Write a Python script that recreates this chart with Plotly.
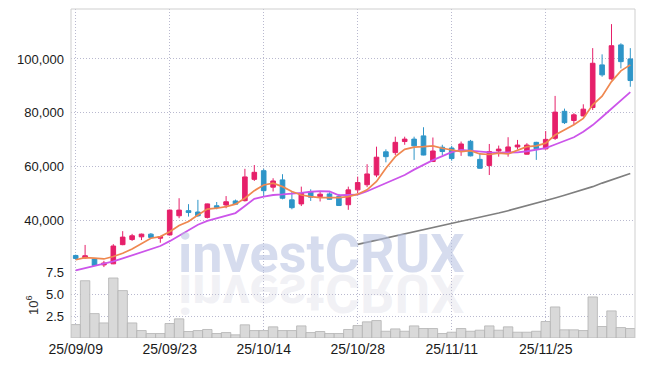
import plotly.graph_objects as go

dates = ["25/09/09","25/09/10","25/09/11","25/09/12","25/09/15","25/09/16","25/09/17","25/09/18","25/09/19","25/09/22",
         "25/09/23","25/09/24","25/09/25","25/09/26","25/09/29","25/09/30","25/10/01","25/10/02","25/10/10","25/10/13",
         "25/10/14","25/10/15","25/10/16","25/10/17","25/10/20","25/10/21","25/10/22","25/10/23","25/10/24","25/10/27",
         "25/10/28","25/10/29","25/10/30","25/10/31","25/11/03","25/11/04","25/11/05","25/11/06","25/11/07","25/11/10",
         "25/11/11","25/11/12","25/11/13","25/11/14","25/11/17","25/11/18","25/11/19","25/11/20","25/11/21","25/11/24",
         "25/11/25","25/11/26","25/11/27","25/11/28","25/12/01","25/12/02","25/12/03","25/12/04","25/12/05","25/12/08"]

open_ = [27200, 26300, 25900, 23700, 24100, 31200, 33100, 34100, 35100, 33600,
         34800, 41900, 43800, 43300, 41300, 45600, 45900, 47400, 47500, 55400,
         58600, 52500, 55200, 47800, 46300, 50800, 49000, 50000, 49000, 46000,
         51500, 53400, 57000, 65600, 65300, 69400, 70300, 71500, 62000, 67300,
         67000, 65700, 69500, 62800, 60500, 65900, 65100, 67400, 64700, 69100,
         66700, 70600, 80600, 77200, 78900, 82000, 97800, 92600, 105200, 100000]
high = [27500, 31100, 26000, 25200, 31400, 36200, 35200, 35300, 35500, 34400,
        44200, 48400, 46200, 47800, 46400, 47000, 49200, 47900, 59300, 60700,
        59300, 55800, 57300, 51000, 52700, 51700, 50900, 50600, 50000, 52700,
        56400, 61000, 67500, 66500, 71200, 71200, 71200, 74700, 70900, 68200,
        67800, 69400, 70000, 65100, 68500, 67900, 71000, 70000, 68800, 69300,
        73300, 86300, 81600, 79900, 83200, 104000, 101700, 112900, 105800, 104000]
low = [25600, 26000, 23400, 22900, 24000, 31000, 32600, 32900, 33800, 31900,
       34600, 41000, 41600, 41500, 40900, 44300, 44700, 45900, 47200, 54800,
       49300, 50900, 48000, 44300, 45500, 47400, 47200, 47900, 45600, 44100,
       50300, 52500, 56200, 61700, 64400, 68200, 62600, 64300, 61800, 64400,
       62300, 64100, 63900, 59400, 57000, 63800, 63800, 66500, 64600, 62600,
       66400, 70000, 75900, 75600, 78700, 81100, 93400, 92300, 96500, 89700]
close = [26100, 27100, 23500, 24400, 30700, 34000, 34500, 35100, 33900, 34200,
         44000, 44000, 43100, 41900, 46300, 45000, 47100, 46200, 56300, 58000,
         51200, 54800, 48400, 44900, 50200, 48800, 49900, 48000, 45700, 51500,
         54200, 57400, 63600, 63800, 69100, 70300, 67800, 64400, 65900, 65700,
         63100, 68500, 64100, 59500, 65700, 66600, 67400, 68100, 68100, 66700,
         70200, 80300, 76400, 79300, 81400, 98400, 94100, 104900, 99000, 92000]

ma5 = [25600, 26400, 26200, 25900, 26800, 28000, 29600, 31700, 33600, 34200,
       36000, 38300, 39800, 42200, 44400, 44700, 45300, 46200, 48400, 51200,
       53300, 54000, 52700, 50900, 49600, 49000, 48600, 48600, 48600, 49000,
       49900, 51500, 54600, 59500, 63800, 66500, 67300, 67500, 67800, 66900,
       66300, 65700, 66000, 64800, 64600, 65100, 64800, 66300, 67500, 67800,
       68800, 71800, 73700, 75600, 78000, 83000, 86200, 91600, 95600, 97800]
ma20 = [21700, 22500, 23300, 24000, 25000, 26100, 27300, 28500, 29600, 30700,
        32500, 34500, 36600, 38600, 40000, 41000, 42000, 42900, 45500, 48200,
        49000, 49600, 49800, 50000, 50400, 50800, 51000, 50900, 49500, 49600,
        49700, 51000, 52500, 54000, 55700, 57000, 59000, 60800, 62500, 64000,
        65500, 66300, 66000, 65500, 65400, 65300, 65300, 65400, 65800, 66300,
        67000, 68300, 69600, 71000, 73000, 75500, 78500, 81500, 84500, 87700]
ma60 = [None] * 30 + [31300, 32100, 32900, 33700, 34500, 35300, 36100, 36900, 37700, 38400,
                      39200, 39900, 40600, 41300, 42100, 42900, 43800, 44700, 45600, 46500,
                      47500, 48500, 49500, 50500, 51500, 52700, 54000, 55200, 56400, 57600]

volume = [1.53, 6.53, 2.78, 1.72, 6.84, 5.40, 1.72, 0.85, 0.51, 0.51,
          1.65, 2.18, 0.74, 0.85, 0.97, 0.51, 0.62, 0.36, 1.50, 0.85,
          0.85, 1.27, 0.85, 0.85, 1.38, 0.62, 0.74, 0.51, 0.51, 0.97,
          1.42, 1.84, 1.99, 0.77, 1.04, 0.77, 1.38, 1.08, 1.08, 0.51,
          0.66, 1.08, 0.77, 0.89, 1.38, 0.89, 1.27, 0.66, 0.66, 0.77,
          1.88, 3.54, 0.93, 0.93, 0.85, 4.68, 1.31, 3.09, 1.19, 1.08]

price_ticks = [40000, 60000, 80000, 100000]
vol_ticks = [2.5, 5.0, 7.5]
vol_ticktext = ["2.5", "5.0", "7.5"]
x_ticks = dates[::10]

UP = "#e6206a"
DOWN = "#2e95c8"
GRID = "#b9b9cf"
FAM = "Liberation Sans, Arial, sans-serif"
TICKFONT = dict(family=FAM, size=13, color="#1a1a1a")

fig = go.Figure()
fig.add_trace(go.Bar(x=dates, y=volume, yaxis="y2", marker=dict(color="#d9d9d9", line=dict(color="#b3b3b3", width=0.8)),
                     showlegend=False))
fig.add_trace(go.Scatter(x=dates, y=ma60, mode="lines", line=dict(color="#7f7f7f", width=1.6), showlegend=False))
fig.add_trace(go.Scatter(x=dates, y=ma20, mode="lines", line=dict(color="#cc55ea", width=1.8), showlegend=False))
fig.add_trace(go.Scatter(x=dates, y=ma5, mode="lines", line=dict(color="#ef8850", width=1.7), showlegend=False))
fig.add_trace(go.Candlestick(x=dates, open=open_, high=high, low=low, close=close,
                             increasing=dict(line=dict(color=UP, width=1), fillcolor=UP),
                             decreasing=dict(line=dict(color=DOWN, width=1), fillcolor=DOWN),
                             showlegend=False))

fig.update_layout(
    width=645, height=366,
    margin=dict(l=71, r=10, t=9, b=28, autoexpand=False),
    paper_bgcolor="white", plot_bgcolor="white",
    bargap=0, showlegend=False,
    xaxis=dict(type="category", range=[-0.5, 59.5], anchor="y2", tickvals=x_ticks, ticktext=x_ticks,
               showgrid=True, gridcolor=GRID, griddash="1px,2px", gridwidth=1, zeroline=False, automargin=False,
               rangeslider=dict(visible=False), ticks="", ticklabelstandoff=1,
               tickfont=dict(family=FAM, size=14, color="#1a1a1a")),
    yaxis=dict(domain=[0.2, 1], range=[21000, 118500], tickvals=price_ticks, tickformat=",",
               showgrid=True, gridcolor=GRID, griddash="1px,2px", gridwidth=1, zeroline=False, automargin=False,
               ticks="", ticklabelstandoff=6, tickfont=TICKFONT, anchor="x"),
    yaxis2=dict(domain=[0, 0.2], range=[0, 7.5], tickvals=vol_ticks, ticktext=vol_ticktext,
                showgrid=True, gridcolor=GRID, griddash="1px,2px", gridwidth=1, zeroline=False, automargin=False,
                ticks="", ticklabelstandoff=6, tickfont=TICKFONT, anchor="x",
                title=dict(text="10<sup>6</sup>", font=dict(family=FAM, size=13, color="#333"), standoff=4)),
    shapes=[
        dict(type="line", xref="paper", yref="paper", x0=0, x1=0, y0=0, y1=1, line=dict(color="#cfcfcf", width=1)),
        dict(type="line", xref="paper", yref="paper", x0=0, x1=1, y0=1, y1=1, line=dict(color="#cfcfcf", width=1)),
        dict(type="line", xref="paper", yref="paper", x0=1, x1=1, y0=0, y1=1, line=dict(color="#cfcfcf", width=1)),
    ],
    annotations=[
        dict(text="investCRUX", xref="paper", yref="paper", x=0.444, y=0.257, xanchor="center", yanchor="middle",
             showarrow=False, font=dict(family="Roboto, sans-serif", size=54, color="rgba(180,192,224,0.55)", weight="bold")),
    ],
)

post = """
document.body.style.margin = '0';
document.body.style.padding = '0';
var gd = document.getElementById('{plot_id}');
function flipWM(){
  var t = gd.querySelector('.annotation-text');
  if(!t) return;
  var old = gd.querySelector('.wm-refl'); if(old) old.remove();
  var base;
  try { base = t.getStartPositionOfChar(0).y; } catch(e) { var bb = t.getBBox(); base = bb.y + bb.height*0.79; }
  var m = base + 1.5;
  var c = t.cloneNode(true);
  c.setAttribute('class', 'wm-refl');
  c.setAttribute('transform', 'translate(0,' + (2*m) + ') scale(1,-1)');
  c.style.fill = 'rgba(200,200,215,0.45)';
  t.parentNode.appendChild(c);
}
flipWM();
"""

fig.write_html("out.html", post_script=post, config={"displayModeBar": False, "staticPlot": True})
